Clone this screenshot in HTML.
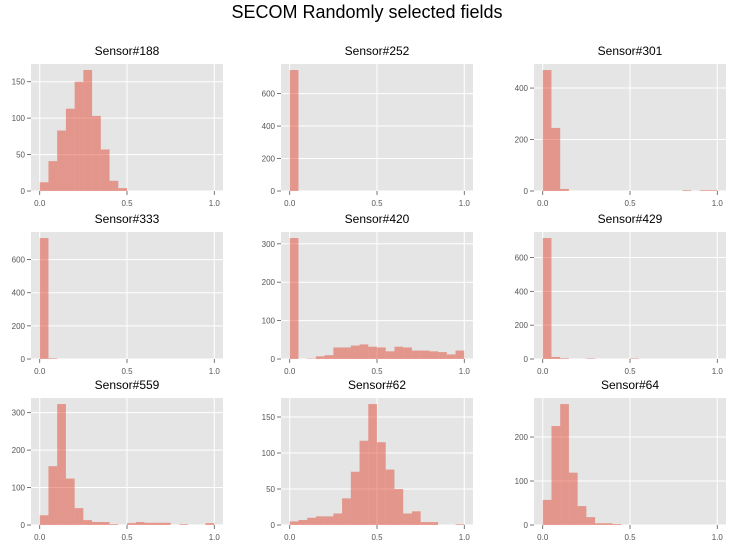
<!DOCTYPE html>
<html><head><meta charset="utf-8"><style>
body{margin:0;background:#fff;}
svg{display:block;font-family:"Liberation Sans","DejaVu Sans",sans-serif;}
</style></head><body>
<svg id="fig" width="734" height="549">
<text x="367" y="18" text-anchor="middle" font-size="18" fill="#000">SECOM Randomly selected fields</text>
</svg>
<script>
const titles=["Sensor#188","Sensor#252","Sensor#301","Sensor#333","Sensor#420","Sensor#429","Sensor#559","Sensor#62","Sensor#64"];
const binStarts=[0,0.05,0.1,0.15,0.2,0.25,0.3,0.35,0.4,0.45,0.5,0.55,0.6,0.65,0.7,0.75,0.8,0.85,0.9,0.95];
const c188=[12,41,83,113,150,166,103,57,14,4,0,0,0,0,0,0,0,0,0,0];
const c252=[745,0,0,0,0,0,0,0,0,0,0,0,0,0,0,0,0,0,0,0];
const c301=[470,245,8,0,0,0,0,0,0,0,0,0,0,0,0,0,3,0,3,3];
const c333=[730,4,0,0,0,0,0,0,0,0,0,0,0,0,0,0,0,0,0,0];
const c420=[315,0,1,7,10,30,30,35,38,32,30,20,32,30,22,22,20,18,12,22];
const c429=[715,12,4,0,0,3,0,0,0,0,3,0,0,0,0,0,0,0,0,0];
const c559=[26,157,323,124,45,13,8,8,2,0,5,8,6,6,6,0,2,0,0,5];
const c62=[5,7,10,12,12,16,37,74,117,168,115,77,50,16,19,4,4,0,0,1];
const c64=[57,225,275,119,43,18,4,4,2,0,0,0,0,0,0,0,0,0,0,0];
const yTicks=[[0,50,100,150],[0,200,400,600],[0,200,400],[0,200,400,600],[0,100,200,300],[0,200,400,600],[0,100,200,300],[0,50,100,150],[0,100,200]];
const xTicks=[0,0.5,1.0];
const xTickLabels=["0.0","0.5","1.0"];
const series=[c188,c252,c301,c333,c420,c429,c559,c62,c64];

const NS="http://www.w3.org/2000/svg";
const svg=document.getElementById('fig');
function mk(tag,attrs,parent){const e=document.createElementNS(NS,tag);for(const k in attrs)e.setAttribute(k,attrs[k]);(parent||svg).appendChild(e);return e;}
const colL=[31,281,534], rowT=[64,232,398], W=192, H=127, binW=0.05;
for(let i=0;i<9;i++){
  const L=colL[i%3], T=rowT[Math.floor(i/3)];
  const data=series[i];
  const ymax=Math.max(...data)*1.05;
  const xs=v=>L+(v+0.05)/1.1*W;
  const ys=v=>T+H-v/ymax*H;
  const g=mk('g',{});
  
  
  const bg=mk('rect',{x:L,y:T,width:W,height:H,fill:'#E5E5E5'},g);
  
  
  yTicks[i].forEach(t=>{
    const y=ys(t);
    const gl=mk('line',{x1:L,x2:L+W,y1:y,y2:y,stroke:'#fff','stroke-width':1},g);
    
    
    mk('line',{x1:L-4,x2:L,y1:y,y2:y,stroke:'#555','stroke-width':0.8},g);
    const tl=mk('text',{x:L-6,y:y+3,'text-anchor':'end','font-size':8,fill:'#555'},g);
    tl.textContent=t;
    
    
  });
  xTicks.forEach((t,j)=>{
    const x=xs(t);
    const gl=mk('line',{x1:x,x2:x,y1:T,y2:T+H,stroke:'#fff','stroke-width':1},g);
    
    
    mk('line',{x1:x,x2:x,y1:T+H,y2:T+H+4,stroke:'#555','stroke-width':0.8},g);
    const tl=mk('text',{x:x,y:T+H+15,'text-anchor':'middle','font-size':8,fill:'#555'},g);
    tl.textContent=xTickLabels[j];
    
    
  });
  data.forEach((v,k)=>{
    if(v<=0)return;
    const x0=xs(binStarts[k]), x1=xs(binStarts[k]+binW);
    const b=mk('rect',{x:x0,y:ys(v),width:x1-x0,height:ys(0)-ys(v),fill:'#E24A33','fill-opacity':0.5},g);
    
    
  });
  const tt=mk('text',{x:L+W/2,y:T-9,'text-anchor':'middle','font-size':12,fill:'#000'},g);
  tt.textContent=titles[i];
  
  
}
</script>
</body></html>
